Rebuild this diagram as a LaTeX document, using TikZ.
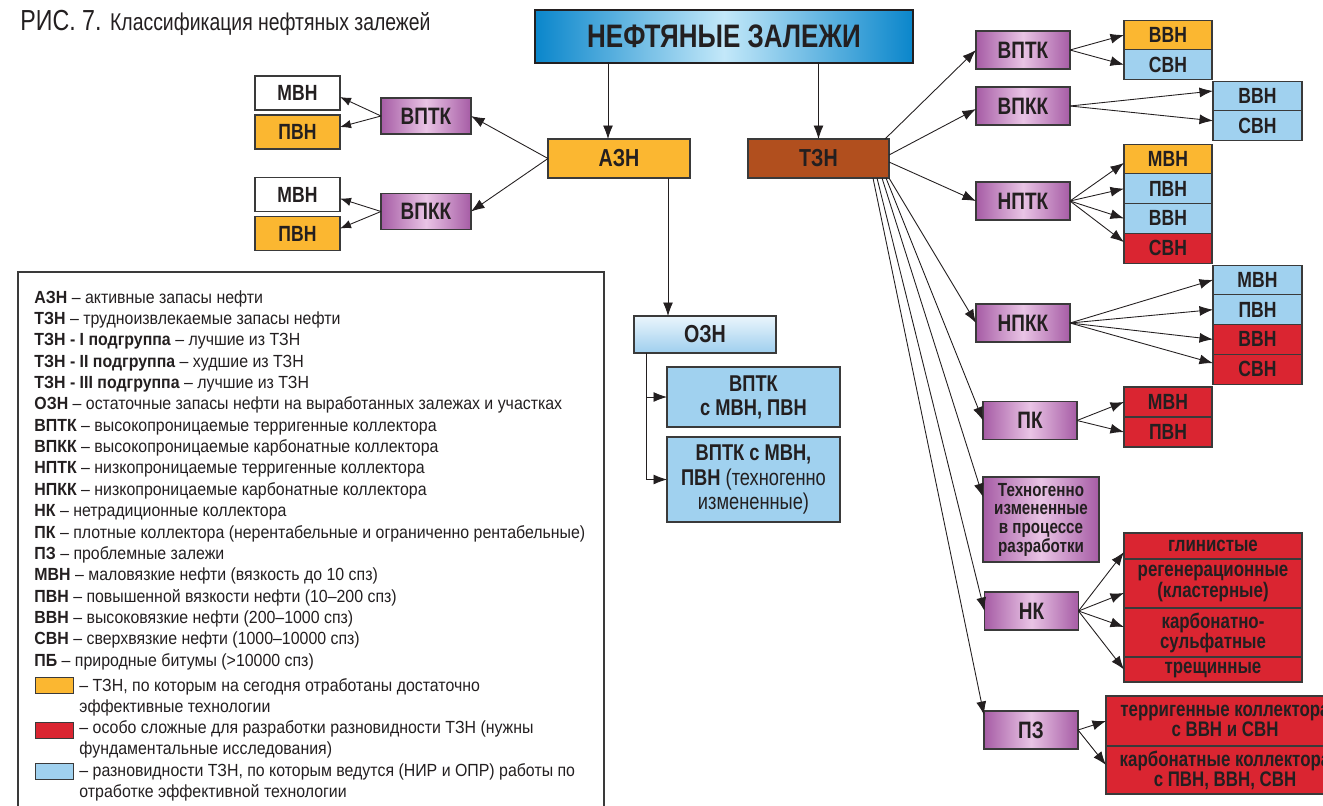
\documentclass[tikz,border=0pt]{standalone}
\usepackage{fontspec}
\setmainfont{Liberation Sans}[FakeStretch=0.905]
\newfontfamily\condfont{Liberation Sans}[FakeStretch=0.8]
\usetikzlibrary{positioning,arrows.meta}

\definecolor{ink}{HTML}{231F20}
\definecolor{frame}{HTML}{3A3A3A}
\definecolor{orng}{HTML}{FBB731}
\definecolor{brwn}{HTML}{B14F1E}
\definecolor{lblu}{HTML}{A0D1EF}
\definecolor{hardred}{HTML}{DA2531}
\definecolor{purD}{HTML}{A65CA5}
\definecolor{purL}{HTML}{E9C4E5}
\definecolor{ttlD}{HTML}{0A86CB}
\definecolor{ttlL}{HTML}{C3E8F9}
\definecolor{oznT}{HTML}{EAF5FC}
\definecolor{oznB}{HTML}{9FCFEE}

\begin{document}
\begin{tikzpicture}[x=0.2mm, y=-0.2mm, text=ink, line width=0.5pt,
  box/.style={draw=frame, line width=0.6pt, inner sep=1pt, outer sep=0pt, align=center,
    font=\condfont\bfseries\fontsize{12.5}{12}\selectfont},
  cls/.style={box, left color=purD, right color=purD, middle color=purL,
    minimum width=18.8mm, minimum height=7.6mm, font=\condfont\bfseries\fontsize{13.5}{13}\selectfont},
  vis/.style={box, minimum width=17.6mm, minimum height=5.95mm},
  big/.style={font=\condfont\bfseries\fontsize{14}{14}\selectfont},
  org/.style={fill=orng}, blu/.style={fill=lblu}, hard/.style={fill=hardred}, wht/.style={fill=white},
  key/.style={anchor=north west, inner sep=0pt, align=left, font=\fontsize{10}{12.15}\selectfont},
  swatch/.style={draw=frame, line width=0.6pt, anchor=north west, inner sep=0pt, minimum width=7.6mm, minimum height=3.2mm},
  arr/.style={draw=ink, -{Latex[length=2.7mm,width=2mm]}},
  arrs/.style={draw=ink, -{Latex[length=2.2mm,width=1.7mm]}}]
\useasboundingbox (0,0) rectangle (1323,806);

% caption and root
\node[anchor=base west, inner sep=0pt, font=\condfont] (cap) at (20,30)
  {\fontsize{16.5}{16}\selectfont РИС. 7. \fontsize{13.8}{14}\selectfont Классификация нефтяных залежей};
\node[box, left color=ttlD, right color=ttlD, middle color=ttlL, draw=ink, line width=1.2pt,
  minimum width=75.6mm, minimum height=10.6mm, font=\condfont\bfseries\fontsize{18.5}{18}\selectfont]
  (root) at (724,36.5) {НЕФТЯНЫЕ ЗАЛЕЖИ};
\node[box, big, org, minimum width=28.4mm, minimum height=7.8mm] (azn) at (619,158.5) {АЗН};
\node[box, big, fill=brwn, minimum width=28.2mm, minimum height=7.8mm] (tzn) at (818.5,158.5) {ТЗН};

% active reserves
\node[cls, minimum width=18mm, minimum height=7.2mm] (vptkA) at (426,116) {ВПТК};
\node[cls, minimum width=18mm, minimum height=7.2mm] (vpkkA) at (426,211.5) {ВПКК};
\node[vis, wht, minimum width=17mm, minimum height=6.8mm] (mvnA) at (297.5,93) {МВН};
\node[vis, org, minimum width=17mm, minimum height=6.8mm] (pvnA) at (297.5,132) {ПВН};
\node[vis, wht, minimum width=17mm, minimum height=6.8mm] (mvnB) at (297.5,194.5) {МВН};
\node[vis, org, minimum width=17mm, minimum height=6.8mm] (pvnB) at (297.5,233.5) {ПВН};

% residual reserves
\node[box, big, top color=oznT, bottom color=oznB, minimum width=28.4mm, minimum height=7.4mm] (ozn) at (705,334.5) {ОЗН};
\node[box, blu, minimum width=34.6mm, minimum height=12mm, font=\condfont\bfseries\fontsize{13}{13.7}\selectfont]
  (oznA) at (753.5,397) {ВПТК\\ с МВН, ПВН};
\node[box, blu, minimum width=34.6mm, minimum height=17mm, font=\condfont\bfseries\fontsize{13}{13.7}\selectfont]
  (oznB) at (753.5,479.5) {ВПТК с МВН,\\ ПВН {\mdseries (техногенно}\\ {\mdseries измененные)}};

% hard-to-recover reserves
\node[cls] (vptkB) at (1023,50) {ВПТК};
\node[vis, org] (vvnB) at (1168,35) {ВВН};
\node[vis, blu, below=0pt of vvnB] (svnB) {СВН};
\node[cls] (vpkkB) at (1023,106) {ВПКК};
\node[vis, blu, minimum width=17.8mm] (vvnC) at (1257.5,96) {ВВН};
\node[vis, blu, minimum width=17.8mm, below=0pt of vvnC] (svnC) {СВН};
\node[cls] (nptk) at (1023,201) {НПТК};
\node[vis, org] (mvnD) at (1168,158.9) {МВН};
\node[vis, blu, below=0pt of mvnD] (pvnD) {ПВН};
\node[vis, blu, below=0pt of pvnD] (vvnD) {ВВН};
\node[vis, hard, below=0pt of vvnD] (svnD) {СВН};
\node[cls] (npkk) at (1023,323) {НПКК};
\node[vis, blu, minimum width=17.8mm] (mvnE) at (1257.5,279.9) {МВН};
\node[vis, blu, minimum width=17.8mm, below=0pt of mvnE] (pvnE) {ПВН};
\node[vis, hard, minimum width=17.8mm, below=0pt of pvnE] (vvnE) {ВВН};
\node[vis, hard, minimum width=17.8mm, below=0pt of vvnE] (svnE) {СВН};
\node[cls] (pk) at (1030,420.5) {ПК};
\node[vis, hard, minimum height=6mm] (mvnF) at (1168,402) {МВН};
\node[vis, hard, minimum height=6mm, below=0pt of mvnF] (pvnF) {ПВН};
\node[cls, minimum width=23.2mm, minimum height=17mm, font=\condfont\bfseries\fontsize{10.8}{10.6}\selectfont]
  (tech) at (1041,519.5) {Техногенно\\ измененные\\ в процессе\\ разработки};
\node[cls] (nk) at (1031.5,611) {НК};
\node[box, hard, minimum width=35.6mm, minimum height=5.2mm, font=\condfont\bfseries\fontsize{12}{11.4}\selectfont]
  (clay) at (1213,546) {глинистые};
\node[box, hard, minimum width=35.6mm, minimum height=9.8mm, below=0pt of clay, font=\condfont\bfseries\fontsize{12}{11.4}\selectfont]
  (regen) {регенерационные\\ (кластерные)};
\node[box, hard, minimum width=35.6mm, minimum height=9.8mm, below=0pt of regen, font=\condfont\bfseries\fontsize{12}{11.4}\selectfont]
  (carb) {карбонатно-\\ сульфатные};
\node[box, hard, minimum width=35.6mm, minimum height=5mm, below=0pt of carb, font=\condfont\bfseries\fontsize{12}{11.4}\selectfont]
  (frac) {трещинные};
\node[cls] (pz) at (1031,730) {ПЗ};
\node[box, hard, minimum width=47.6mm, minimum height=10mm, font=\condfont\bfseries\fontsize{12}{11.4}\selectfont]
  (terr) at (1225,721) {терригенные коллектора\\ с ВВН и СВН};
\node[box, hard, minimum width=47.6mm, minimum height=9.6mm, below=0pt of terr, font=\condfont\bfseries\fontsize{12}{11.4}\selectfont]
  (carbc) {карбонатные коллектора\\ с ПВН, ВВН, СВН};

% legend
\draw[draw=frame, line width=0.6pt] (18,830) |- (604,272) -- (604,830);
\node[key] (keytext) at (34,290) {\textbf{АЗН} – активные запасы нефти\\
  \textbf{ТЗН} – трудноизвлекаемые запасы нефти\\
  \textbf{ТЗН - I подгруппа} – лучшие из ТЗН\\
  \textbf{ТЗН - II подгруппа} – худшие из ТЗН\\
  \textbf{ТЗН - III подгруппа} – лучшие из ТЗН\\
  \textbf{ОЗН} – остаточные запасы нефти на выработанных залежах и участках\\
  \textbf{ВПТК} – высокопроницаемые терригенные коллектора\\
  \textbf{ВПКК} – высокопроницаемые карбонатные коллектора\\
  \textbf{НПТК} – низкопроницаемые терригенные коллектора\\
  \textbf{НПКК} – низкопроницаемые карбонатные коллектора\\
  \textbf{НК} – нетрадиционные коллектора\\
  \textbf{ПК} – плотные коллектора (нерентабельные и ограниченно рентабельные)\\
  \textbf{ПЗ} – проблемные залежи\\
  \textbf{МВН} – маловязкие нефти (вязкость до 10 спз)\\
  \textbf{ПВН} – повышенной вязкости нефти (10–200 спз)\\
  \textbf{ВВН} – высоковязкие нефти (200–1000 спз)\\
  \textbf{СВН} – сверхвязкие нефти (1000–10000 спз)\\
  \textbf{ПБ} – природные битумы (>10000 спз)};
\node[swatch, fill=orng] (swO) at (35,677) {};
\node[key] (keyO) at (79,678) {– ТЗН, по которым на сегодня отработаны достаточно\\ эффективные технологии};
\node[swatch, fill=hardred] (swR) at (35,722) {};
\node[key] (keyR) at (79,720) {– особо сложные для разработки разновидности ТЗН (нужны\\ фундаментальные исследования)};
\node[swatch, fill=lblu] (swB) at (35,763) {};
\node[key] (keyB) at (79,763) {– разновидности ТЗН, по которым ведутся (НИР и ОПР) работы по\\ отработке эффективной технологии};

% connectors
\draw[arr] ([xshift=-2.2mm]azn.north |- root.south) -- ([xshift=-2.2mm]azn.north);
\draw[arr] (tzn.north |- root.south) -- (tzn.north);
\draw[arr] (azn.west) -- (vptkA.east); \draw[arr] (azn.west) -- (vpkkA.east);
\draw[arrs] (vptkA.west) -- ([yshift=-0.8mm]mvnA.east); \draw[arrs] (vptkA.west) -- ([yshift=1mm]pvnA.east);
\draw[arrs] (vpkkA.west) -- ([yshift=-0.8mm]mvnB.east); \draw[arrs] (vpkkA.west) -- ([yshift=1mm]pvnB.east);
\draw[arr] ([xshift=9.8mm]azn.south) -- ([xshift=9.8mm]azn.south |- ozn.north);
\coordinate (oznL) at ([xshift=2.4mm]ozn.south west);
\draw[arr] (oznL) |- (oznB.west); \draw[arr] (oznL |- oznA.west) -- (oznA.west);

\draw[arr] ([xshift=-0.8mm]tzn.north east) -- (vptkB.west);
\draw[arr] ([yshift=0.7mm]tzn.east) -- ([yshift=-0.6mm]vpkkB.west);
\draw[arr] ([yshift=-0.7mm]tzn.east) -- (nptk.west);
\draw[arr] (tzn.south east) -- (npkk.west);
\draw[arr] ([xshift=-0.6mm]tzn.south east) -- (pk.west);
\draw[arr] ([xshift=-1.4mm]tzn.south east) -- ([yshift=4.5mm]tech.west);
\draw[arr] ([xshift=-2.4mm]tzn.south east) -- (nk.west);
\draw[arr] ([xshift=-3.2mm]tzn.south east) -- ([yshift=-0.8mm]pz.north west);

\draw[arr] (vptkB.east) -- (vvnB.west); \draw[arr] (vptkB.east) -- (svnB.west);
\draw[arr] (vpkkB.east) -- ([yshift=1mm]vvnC.west); \draw[arr] (vpkkB.east) -- ([yshift=1mm]svnC.west);
\draw[arr] (nptk.east) -- ([yshift=-0.8mm]mvnD.west); \draw[arr] (nptk.east) -- (pvnD.west);
\draw[arr] (nptk.east) -- (vvnD.west); \draw[arr] (nptk.east) -- ([yshift=1.2mm]svnD.west);
\draw[arr] (npkk.east) -- (mvnE.west); \draw[arr] (npkk.east) -- (pvnE.west);
\draw[arr] (npkk.east) -- (vvnE.west); \draw[arr] (npkk.east) -- ([yshift=1.2mm]svnE.west);
\draw[arr] (pk.east) -- (mvnF.west); \draw[arr] (pk.east) -- (pvnF.west);
\draw[arr] (nk.east) -- ([yshift=-1.2mm]clay.west); \draw[arr] (nk.east) -- ([yshift=-1.9mm]regen.west);
\draw[arr] (nk.east) -- ([yshift=1.1mm]carb.west); \draw[arr] (nk.east) -- (frac.west);
\draw[arr] (pz.east) -- (terr.west); \draw[arr] (pz.east) -- ([yshift=1mm]carbc.west);
\end{tikzpicture}
\end{document}
